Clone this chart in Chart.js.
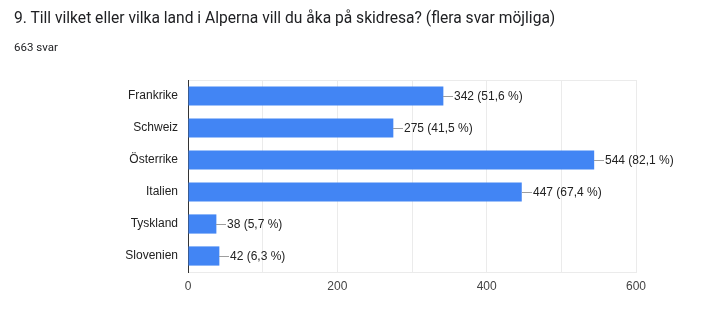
<!DOCTYPE html>
<html>
<head>
<meta charset="utf-8">
<script src="https://cdn.jsdelivr.net/npm/chart.js@4"></script>
<style>
  body { margin: 0; background: #fff; }
  #wrap { position: relative; width: 710px; height: 333px; }
  #title { position: absolute; left: 14px; top: 9px; font: 15.6px Roboto, Arial, sans-serif; color: #202124; white-space: nowrap; }
  #sub { position: absolute; left: 14px; top: 40px; font: 11.5px Roboto, Arial, sans-serif; color: #202124; }
  canvas { position: absolute; left: 0; top: 0; }
</style>
</head>
<body>
<div id="wrap">
  <canvas id="chart" width="710" height="333"></canvas>
  <div id="title">9. Till vilket eller vilka land i Alperna vill du åka på skidresa? (flera svar möjliga)</div>
  <div id="sub">663 svar</div>
</div>
<script>
const countries = ["Frankrike", "Schweiz", "Österrike", "Italien", "Tyskland", "Slovenien"];
const answers = [342, 275, 544, 447, 38, 42];
const percents = ["51,6", "41,5", "82,1", "67,4", "5,7", "6,3"];

// etikett med kort streck efter varje stapel
const barLabels = {
  id: "barLabels",
  afterDatasetsDraw(chart) {
    const ctx = chart.ctx;
    const meta = chart.getDatasetMeta(0);
    ctx.save();
    ctx.font = "12px 'Liberation Sans', Arial, sans-serif";
    ctx.textBaseline = "middle";
    ctx.textAlign = "left";
    meta.data.forEach((bar, i) => {
      const x = Math.round(bar.x), y = Math.round(bar.y) + 0.5;
      ctx.strokeStyle = "#9e9e9e";
      ctx.lineWidth = 1;
      ctx.beginPath();
      ctx.moveTo(x, y);
      ctx.lineTo(x + 10, y);
      ctx.stroke();
      ctx.fillStyle = "#222";
      ctx.fillText(answers[i] + " (" + percents[i] + " %)", x + 11, y);
    });
    ctx.restore();
  }
};

new Chart(document.getElementById("chart"), {
  type: "bar",
  data: {
    labels: countries,
    datasets: [{
      data: answers,
      backgroundColor: "#4285f4",
      categoryPercentage: 1,
      barPercentage: 0.6
    }]
  },
  options: {
    indexAxis: "y",
    responsive: false,
    animation: false,
    layout: { padding: { top: 80, right: 74, bottom: 29, left: 0 } },
    plugins: { legend: { display: false }, tooltip: { enabled: false } },
    scales: {
      x: {
        min: 0,
        max: 600,
        afterFit: s => { s.height = 32; },
        ticks: {
          stepSize: 100,
          padding: 7,
          color: "#444",
          font: { size: 12, family: "'Liberation Sans', Arial, sans-serif" },
          callback: v => (v % 200 === 0 ? v : "")
        },
        grid: { color: "#ebebeb", drawTicks: false },
        border: { color: "#ebebeb" }
      },
      y: {
        afterFit: s => { s.width = 188; },
        ticks: {
          padding: 10,
          color: "#222",
          font: { size: 12, family: "'Liberation Sans', Arial, sans-serif" }
        },
        grid: {
          drawTicks: false,
          color: c => (c.index === 0 ? "#ebebeb" : "rgba(0,0,0,0)")
        },
        border: { color: "#333" }
      }
    }
  },
  plugins: [barLabels]
});
</script>
</body>
</html>
